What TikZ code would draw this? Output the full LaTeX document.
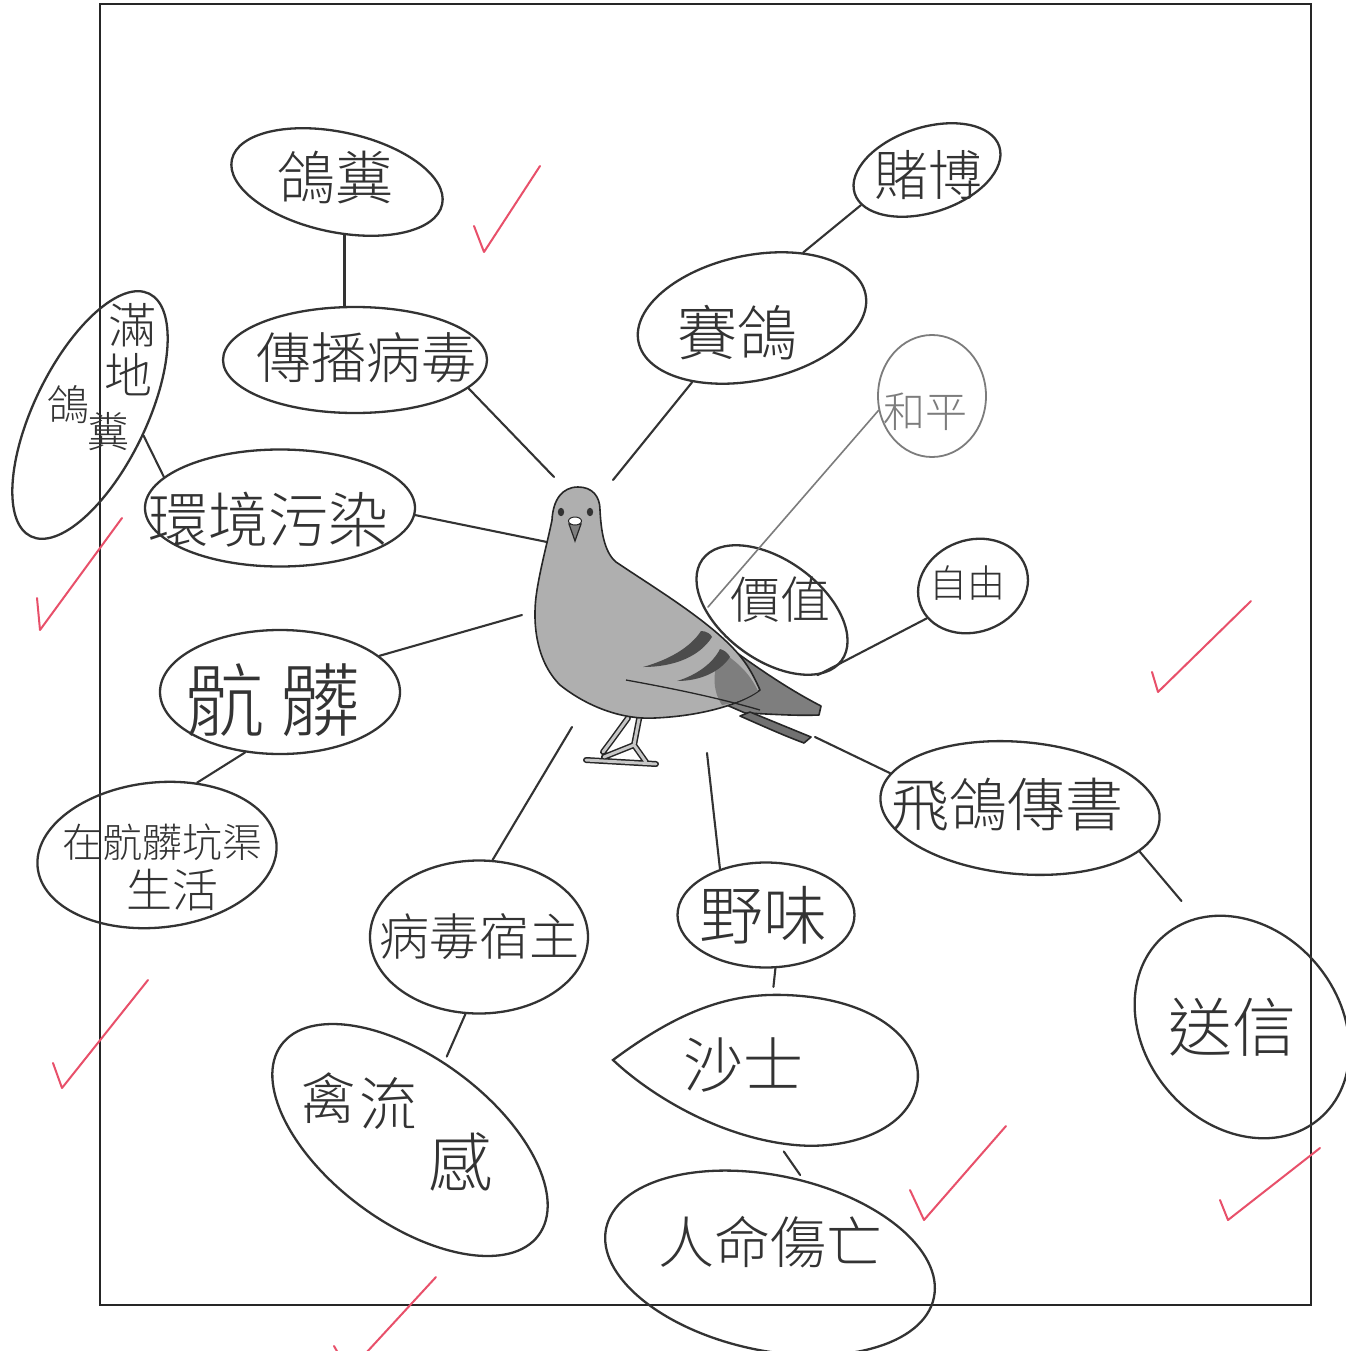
\documentclass[tikz,border=0pt]{standalone}
\usepackage{fontspec}
\newfontfamily\cjk{Noto Sans CJK TC}[UprightFont=* Light]
\usetikzlibrary{shapes.geometric}
\definecolor{ink}{HTML}{333333}
\definecolor{pencil}{HTML}{7C7C7C}
\definecolor{tick}{HTML}{E8506A}
\definecolor{plumage}{HTML}{AFAFAF}
\definecolor{plumagedark}{HTML}{7E7E7E}
\definecolor{bar}{HTML}{4C4C4C}
\definecolor{shank}{HTML}{C8C8C8}

\begin{document}
\begin{tikzpicture}[x=1pt,y=-1pt,
  bubble/.style={ellipse, draw=ink, line width=2.3pt, inner sep=0pt},
  word/.style={font={\cjk\fontsize{#1}{#1}\selectfont}, text=ink, inner sep=0pt},
  link/.style={draw=ink, line width=2.1pt, line cap=round},
  check/.style={draw=tick, line width=2pt, line cap=round, line join=round},
  outline/.style={draw=black!85, line width=1.6pt, line join=round}]

\useasboundingbox (0,0) rectangle (1345,1351);
\fill[white] (0,0) rectangle (1345,1351);
\draw[black!85, line width=1.3pt] (100,4) rectangle (1311,1305);

% ---------- bubbles ----------
\node[bubble, minimum width=215, minimum height=100, rotate=-12] (dung) at (337,182) {};
\node[word=58] (dung-t) at (335,178) {鴿糞};

\node[bubble, minimum width=264, minimum height=106] (spread) at (355,360) {};
\node[word=55] (spread-t) at (366,358) {傳播病毒};

\node[bubble, minimum width=270, minimum height=112, rotate=64] (pile) at (90,415) {};
\node[word=48] (pile-a) at (132,325) {滿};
\node[word=48] (pile-b) at (128,375) {地};
\node[word=42] (pile-c) at (68,405) {鴿};
\node[word=42] (pile-d) at (108,432) {糞};

\node[bubble, minimum width=270, minimum height=117] (env) at (280,508) {};
\node[word=60] (env-t) at (268,520) {環境污染};

\node[bubble, minimum width=240, minimum height=124] (dirty) at (280,692) {};
\node[word=80] (dirty-t) at (272,700) {骯\hspace{16pt}髒};

\node[bubble, minimum width=240, minimum height=145, rotate=6] (ditch) at (157,855) {};
\node[word=40] (ditch-a) at (162,842) {在骯髒坑渠};
\node[word=46] (ditch-b) at (172,890) {生活};

\node[bubble, minimum width=218, minimum height=153] (host) at (479,937) {};
\node[word=50] (host-t) at (479,937) {病毒宿主};

\node[bubble, minimum width=320, minimum height=165, rotate=-36.5] (flu) at (410,1140) {};
\node[word=56] (flu-a) at (328,1098) {禽};
\node[word=58] (flu-b) at (388,1103) {流};
\node[word=64] (flu-c) at (460,1162) {感};

\node[bubble, minimum width=177, minimum height=105] (game) at (766,915) {};
\node[word=64] (game-t) at (763,915) {野味};

% teardrop outline around the SARS label
\node[ellipse, inner sep=0pt, minimum width=300, minimum height=150] (sars) at (766,1070) {};
\draw[draw=ink, line width=2.3pt] (613,1060) .. controls (680,1010) and (730,993) .. (785,995)
  .. controls (880,998) and (925,1045) .. (917,1085)
  .. controls (908,1130) and (850,1150) .. (795,1145)
  .. controls (720,1138) and (650,1095) .. cycle;
\node[word=60] (sars-t) at (743,1065) {沙士};

\node[bubble, minimum width=335, minimum height=175, rotate=-12] (casualty) at (770,1263) {};
\node[word=56] (casualty-t) at (770,1242) {人命傷亡};

\node[bubble, minimum width=280, minimum height=132, rotate=-5] (letter) at (1020,808) {};
\node[word=58] (letter-t) at (1007,805) {飛鴿傳書};

\node[bubble, minimum width=240, minimum height=195, rotate=-50] (send) at (1242,1027) {};
\node[word=64] (send-t) at (1232,1027) {送信};

\node[bubble, minimum width=232, minimum height=125, rotate=12] (race) at (752,318) {};
\node[word=60] (race-t) at (737,333) {賽鴿};

\node[bubble, minimum width=152, minimum height=85, rotate=18] (gamble) at (927,170) {};
\node[word=54] (gamble-t) at (928,175) {賭博};

\node[bubble, draw=pencil, line width=1.8pt, minimum width=108, minimum height=122] (peace) at (932,396) {};
\node[word=42, text=pencil] (peace-t) at (925,412) {和平};

\node[bubble, minimum width=172, minimum height=100, rotate=-36] (value) at (772,610) {};
\node[word=50] (value-t) at (780,600) {價值};

\node[bubble, minimum width=112, minimum height=92, rotate=20] (free) at (973,586) {};
\node[word=38] (free-t) at (967,583) {自由};

% ---------- free ends of the spokes around the pigeon ----------
\coordinate (hubSpread) at (554,477);
\coordinate (hubRace)   at (613,480);
\coordinate (hubEnv)    at (547,542);
\coordinate (hubDirty)  at (522,615);
\coordinate (hubHost)   at (572,727);
\coordinate (hubGame)   at (707,753);
\coordinate (hubLetter) at (815,737);
\coordinate (valueTail) at (708,607);

% ---------- connectors ----------
\draw[link] (dung.-70) -- (dung.-70 |- spread.north);
\draw[link] (spread.-14) -- (hubSpread);
\draw[link] (pile.-85) -- (env.165);
\draw[link] (env.-3) -- (hubEnv);
\draw[link] (dirty.20) -- (hubDirty);
\draw[link] (dirty.-120) -- (ditch.55);
\draw[link] (host.80) -- (hubHost);
\draw[link, shorten >=6pt] (host.-100) -- (flu);
\draw[link] (game.135) -- (hubGame);
\draw[link, shorten >=8pt] (game.-80) -- (sars.85);
\draw[link, shorten <=8pt, shorten >=6pt] (sars.-80) -- (casualty.80);
\draw[link] (letter.170) -- (hubLetter);
\draw[link, shorten >=22pt] (letter.-15) -- (send.163);
\draw[link] (race.-145) -- (hubRace);
\draw[link] (race.40) -- (gamble.-170);
\draw[draw=pencil, line width=1.6pt, line cap=round] (peace.195) -- (valueTail);
\draw[link] (value.-19) -- (free.-165);

% ---------- red check marks ----------
\draw[check] (474,226) -- (484,252) -- (540,166);
\draw[check] (37,598) -- (40,630) -- (122,518);
\draw[check] (1152,672) -- (1158,692) -- (1251,601);
\draw[check] (53,1063) -- (62,1088) -- (148,980);
\draw[check] (910,1190) -- (924,1220) -- (1006,1126);
\draw[check] (1220,1200) -- (1228,1220) -- (1320,1148);
\draw[check] (436,1277) -- (366,1353);
\draw[check] (334,1346) -- (338,1353);

% ---------- the pigeon ----------
% legs
\draw[black!85, line width=6pt, line cap=round, line join=round]
  (640,714) -- (634,745) -- (604,757) (628,718) -- (612,740) -- (603,752)
  (586,760) -- (656,764) (634,745) -- (646,762);
\draw[shank, line width=3pt, line cap=round, line join=round]
  (640,714) -- (634,745) -- (604,757) (628,718) -- (612,740) -- (603,752)
  (586,760) -- (656,764) (634,745) -- (646,762);
% tail feathers
\draw[outline, fill=plumagedark] (722,642) .. controls (760,670) and (790,690) .. (821,706)
  -- (819,715) .. controls (795,716) and (770,714) .. (745,713) -- (715,700) -- cycle;
\draw[outline, fill=plumagedark!90!black] (750,712) -- (811,737) -- (804,743)
  .. controls (785,736) and (765,727) .. (740,716) -- cycle;
% head and body
\draw[outline, fill=plumage] (578,487)
  .. controls (592,487) and (600,496) .. (600,510)
  .. controls (601,530) and (604,552) .. (616,562)
  .. controls (650,585) and (700,615) .. (730,645)
  .. controls (745,660) and (752,672) .. (760,690)
  .. controls (740,705) and (700,716) .. (655,718)
  .. controls (620,720) and (585,705) .. (560,685)
  .. controls (535,660) and (532,620) .. (537,590)
  .. controls (541,565) and (548,540) .. (552,520)
  .. controls (553,500) and (562,487) .. (578,487) -- cycle;
% darker rump where the tail starts
\fill[plumagedark] (722,652) .. controls (742,665) and (752,678) .. (758,691)
  .. controls (748,698) and (735,703) .. (722,705) .. controls (712,690) and (712,670) .. cycle;
% wing bars
\fill[bar] (643,667) .. controls (668,660) and (690,648) .. (701,631)
  .. controls (706,631) and (711,634) .. (712,637)
  .. controls (700,656) and (675,667) .. (643,667) -- cycle;
\fill[bar] (677,681) .. controls (697,675) and (713,663) .. (720,649)
  .. controls (724,650) and (728,653) .. (730,657)
  .. controls (720,672) and (700,681) .. (677,681) -- cycle;
% folded wing edge
\draw[black!85, line width=1.3pt] (626,680) .. controls (670,688) and (715,697) .. (760,710);
% face
\fill[black!80] (561,512) ellipse [x radius=3.2, y radius=4.2];
\fill[black!80] (590,512) ellipse [x radius=3.2, y radius=4.2];
\draw[black!85, line width=1.2pt, fill=plumagedark] (569,524) -- (581,524) -- (575,541) -- cycle;
\draw[black!85, line width=1pt, fill=white] (575,521) ellipse [x radius=6.5, y radius=4];
\end{tikzpicture}
\end{document}
